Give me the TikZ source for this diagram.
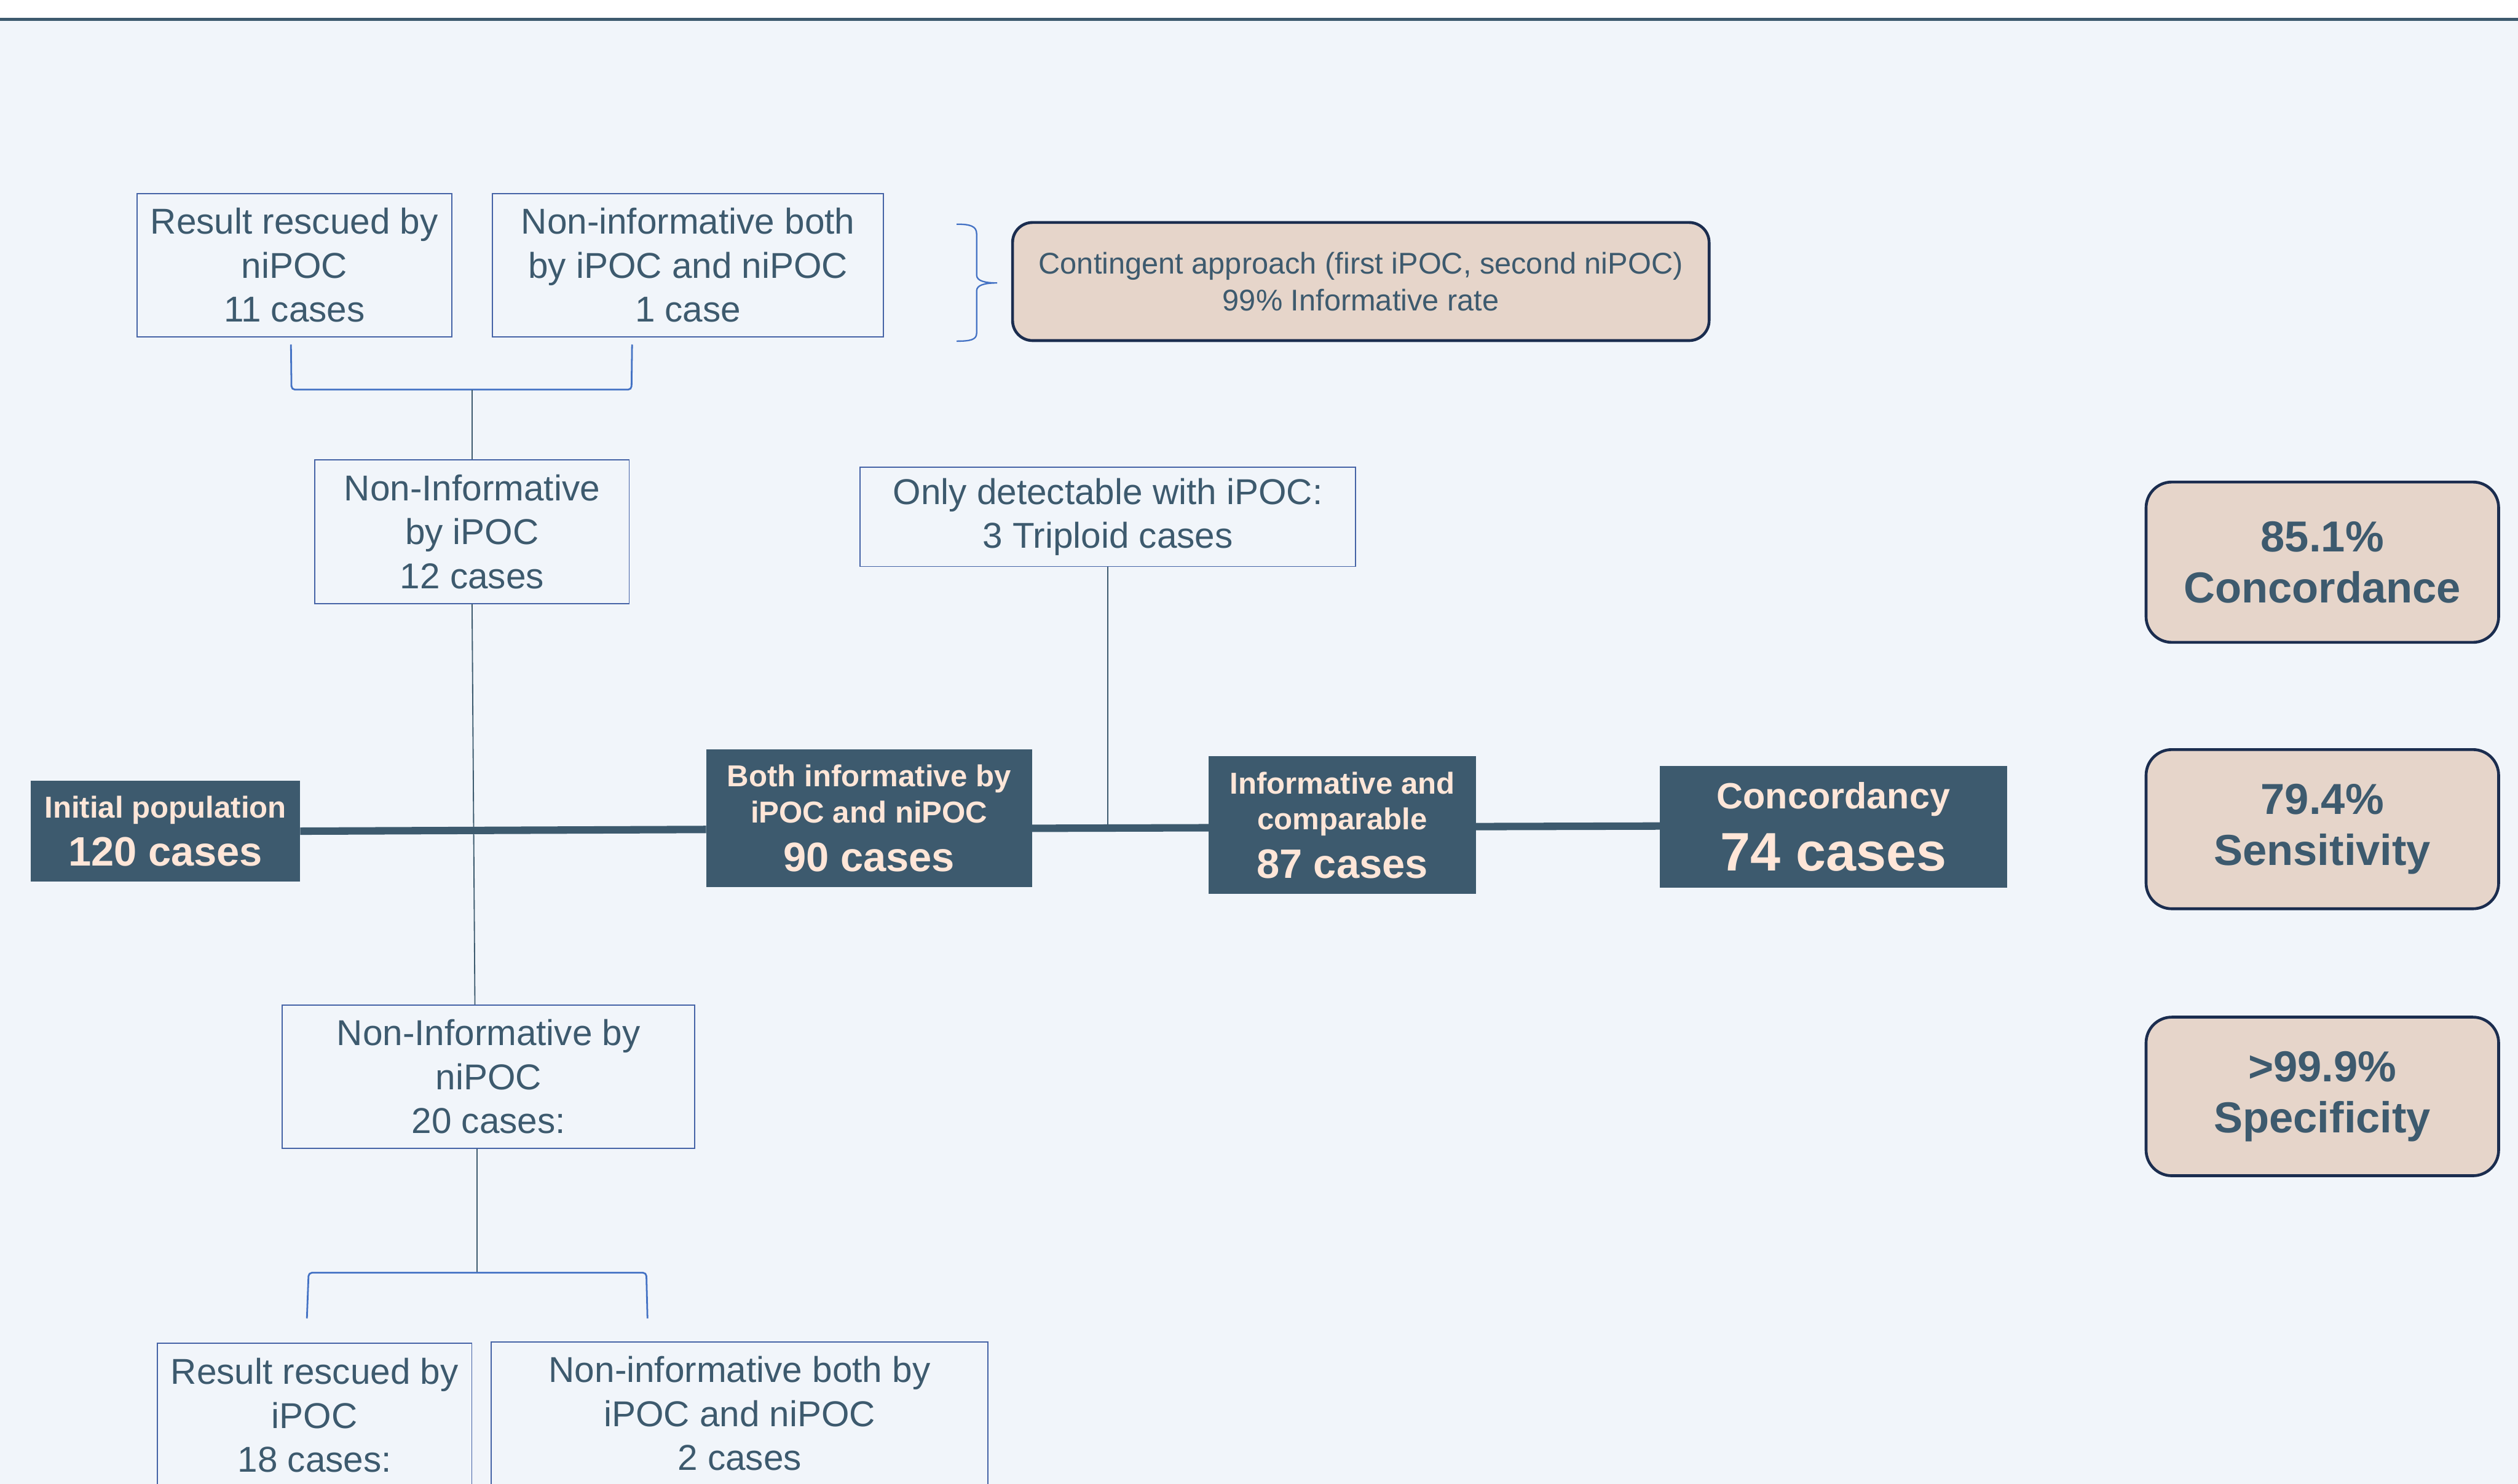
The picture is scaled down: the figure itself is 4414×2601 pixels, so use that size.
\documentclass[tikz,border=0pt]{standalone}
\usepackage{fontspec}
\setmainfont{Liberation Sans}
\usetikzlibrary{calc}
\definecolor{bg}{HTML}{F1F5FA}
\definecolor{slate}{HTML}{3D5A6E}
\definecolor{peach}{HTML}{FFE6D8}
\definecolor{beige}{HTML}{E6D5CA}
\definecolor{navy}{HTML}{1B2D4F}
\definecolor{boxblue}{HTML}{4563A6}
\definecolor{brblue}{HTML}{4472C4}
\newcommand{\smallline}{\fontsize{53}{63}\selectfont}
\newcommand{\bigline}{\fontsize{72}{85}\selectfont}
\begin{document}
\begin{tikzpicture}[x=1pt,y=-1pt,
  lbox/.style={draw=boxblue, line width=2pt, fill=bg, text=slate, align=center, inner sep=0pt, font=\fontsize{63}{77}\selectfont},
  dbox/.style={fill=slate, text=peach, align=center, inner sep=0pt, font=\bfseries\fontsize{72}{85}\selectfont},
  dboxl/.style={fill=slate, text=peach, align=center, inner sep=0pt, font=\bfseries\fontsize{95}{109}\selectfont},
  rbox/.style={draw=navy, line width=5pt, fill=beige, rounded corners=45pt, text=slate, align=center, inner sep=0pt, font=\bfseries\fontsize{76}{89}\selectfont},
  kbox/.style={draw=navy, line width=5pt, fill=beige, rounded corners=35pt, text=slate, align=center, inner sep=0pt, font=\fontsize{52.5}{65}\selectfont},
  conn/.style={draw=slate, line width=2pt},
  brk/.style={draw=brblue, line width=3pt, rounded corners=6pt},
  mainln/.style={draw=slate, line width=13pt}]
\useasboundingbox (0,0) rectangle (4414,2601);
\clip (0,0) rectangle (4414,2601);
% background
\fill[white] (0,0) rectangle (4414,31);
\fill[slate] (0,31) rectangle (4414,37);
\fill[bg] (0,37) rectangle (4414,2601);

% light boxes
\node[lbox, minimum width=552, minimum height=252] (A) at (516,465) {Result rescued by\\niPOC\\11 cases};
\node[lbox, minimum width=686, minimum height=252] (B) at (1206,465) {Non-informative both\\by iPOC and niPOC\\1 case};
\node[lbox, minimum width=551, minimum height=252] (C) at (827.5,932) {Non-Informative\\by iPOC\\12 cases};
\node[lbox, minimum width=868, minimum height=174] (D) at (1942,906) {Only detectable with iPOC:\\3 Triploid cases};
\node[lbox, minimum width=723, minimum height=251] (E) at (856.5,1887.5) {Non-Informative by\\niPOC\\20 cases:};
\node[lbox, minimum width=551, minimum height=252] (F) at (551.5,2481) {Result rescued by\\iPOC\\18 cases:};
\node[lbox, minimum width=871, minimum height=252] (G) at (1296.5,2478) {Non-informative both by\\iPOC and niPOC\\2 cases};

% contingent box
\node[kbox, minimum width=1221, minimum height=207] (K) at (2385.5,493.5) {Contingent approach (first iPOC, second niPOC)\\99\% Informative rate};

% brace
\draw[draw=brblue, line width=2.5pt] (1677,393) .. controls (1700,393) and (1712,396) .. (1712,410)
  -- (1712,482) .. controls (1712,492) and (1725,496) .. (1748,496)
  .. controls (1725,496) and (1712,500) .. (1712,510)
  -- (1712,584) .. controls (1712,596) and (1700,598) .. (1677,598);

% dark boxes
\node[dbox, minimum width=472, minimum height=176] (P1) at (290,1457) {{\smallline Initial population}\\{\bigline 120 cases}};
\node[dbox, minimum width=571, minimum height=241] (P2) at (1523.5,1434.5) {{\smallline Both informative by}\\[-22pt]{\smallline iPOC and niPOC}\\{\bigline 90 cases}};
\node[dbox, minimum width=468, minimum height=241] (P3) at (2353,1446.5) {{\smallline Informative and}\\[-22pt]{\smallline comparable}\\{\bigline 87 cases}};
\node[dboxl, minimum width=608, minimum height=213] (P4) at (3214,1449.5) {{\fontsize{64}{76}\selectfont Concordancy}\\{\fontsize{95}{109}\selectfont 74 cases}};

% main line
\draw[mainln] (P1.east |- 0,1457) -- (P2.west |- 0,1454);
\draw[mainln] (P2.east |- 0,1452) -- (P3.west |- 0,1451);
\draw[mainln] (P3.east |- 0,1449) -- (P4.west |- 0,1448);

% right result boxes
\node[rbox, minimum width=618, minimum height=281] (R1) at (4071,985.5) {85.1\%\\Concordance};
\node[rbox, minimum width=618, minimum height=279] (R2) at (4071,1453.5) {79.4\%\\Sensitivity};
\node[rbox, minimum width=618, minimum height=278] (R3) at (4071,1922) {>99.9\%\\Specificity};

% connectors
\draw[brk] (510,604) -- (511,683) -- (1107,683) -- (1108,604);
\draw[conn] (C.north) -- (C.north |- 0,683);
\draw[conn] (C.south) -- ($(E.north)+(-24,0)$);
\draw[conn] (D.south) -- (D.south |- 0,1447);
\draw[conn] ($(E.south)+(-20,0)$) -- ++(0,218) coordinate (eb);
\draw[brk] (538,2311) -- (541,2231) -- (1133,2231) -- (1135,2311);
\end{tikzpicture}
\end{document}
